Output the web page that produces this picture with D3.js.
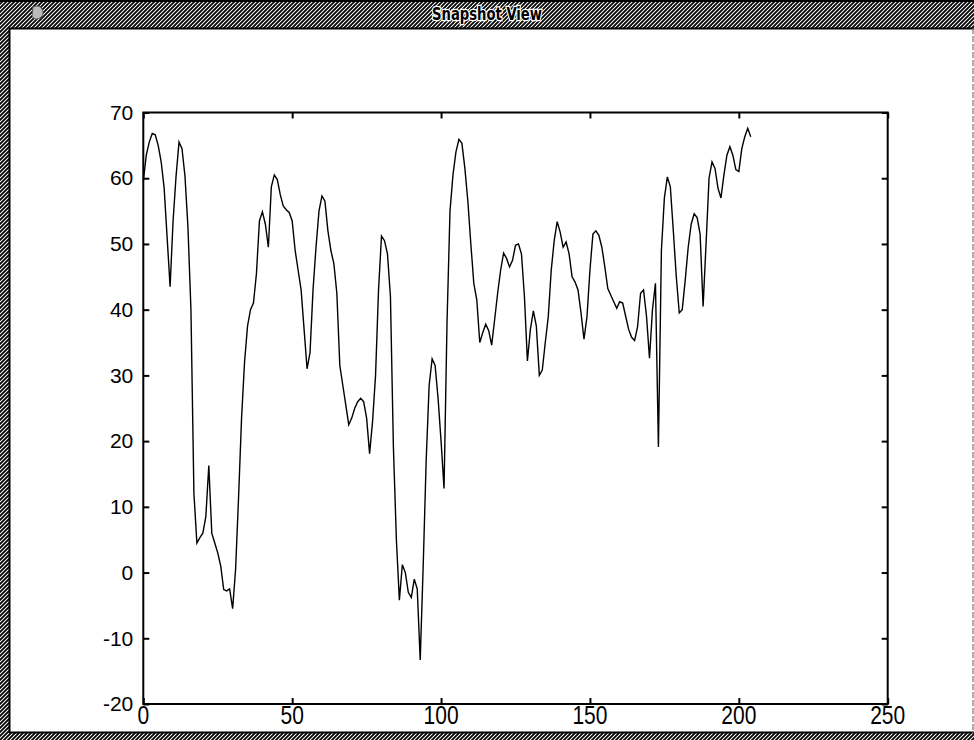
<!DOCTYPE html>
<html>
<head>
<meta charset="utf-8">
<script src="https://cdn.jsdelivr.net/npm/d3@7"></script>
<style>
  html, body { margin: 0; padding: 0; background: #fff; }
  svg { display: block; }
</style>
</head>
<body>
<svg id="chart" width="974" height="740"></svg>
<script>
// ---- data (x = sample index) ----
const windowTitle = "Snapshot View";
const sampleValues = [
  59.5, 63.5, 65.5, 66.8, 66.6, 65.0, 62.5, 58.5, 51.0, 43.5,
  53.5, 60.3, 65.5, 64.5, 60.3, 52.5, 40.0, 12.0, 4.5, 5.3,
  6.0, 8.5, 16.3, 6.0, 4.5, 3.0, 1.0, -2.6, -2.8, -2.5,
  -5.5, 0.5, 11.5, 23.5, 32.0, 37.5, 40.0, 41.0, 45.5, 53.5,
  54.9, 53.0, 49.5, 58.7, 60.5, 59.8, 57.5, 55.8, 55.2, 54.8,
  53.5, 49.0, 46.0, 43.0, 37.0, 31.0, 33.5, 43.0, 49.5, 55.0,
  57.3, 56.5, 52.0, 49.0, 47.0, 42.5, 31.5, 28.5, 25.5, 22.5,
  23.5, 25.0, 26.0, 26.5, 26.0, 23.5, 18.1, 23.0, 30.0, 43.0,
  51.2, 50.5, 48.5, 42.0, 19.0, 5.0, -4.2, 1.2, 0.0, -3.0,
  -3.8, -1.0, -2.5, -13.3, 1.0, 17.0, 28.5, 32.5, 31.5, 26.5,
  20.0, 12.8, 38.0, 55.0, 60.5, 64.0, 65.9, 65.3, 61.5, 56.5,
  50.0, 44.0, 41.5, 35.0, 36.5, 37.8, 36.8, 34.6, 38.5, 42.5,
  46.0, 48.6, 47.8, 46.5, 47.5, 49.8, 50.0, 48.5, 42.0, 32.2,
  37.0, 39.8, 37.5, 30.0, 30.8, 35.0, 38.9, 46.0, 50.5, 53.4,
  51.8, 49.5, 50.3, 48.5, 45.0, 44.2, 43.0, 39.5, 35.5, 38.9,
  46.0, 51.5, 52.0, 51.3, 49.5, 46.5, 43.2, 42.2, 41.2, 40.2,
  41.2, 41.0, 39.0, 37.0, 35.8, 35.3, 37.4, 42.5, 43.0, 39.0,
  32.6, 40.0, 44.0, 19.1, 49.0, 57.0, 60.2, 58.7, 52.0, 45.0,
  39.5, 40.0, 44.5, 49.5, 53.0, 54.6, 54.0, 51.5, 40.5, 50.0,
  60.0, 62.5, 61.5, 58.5, 57.0, 60.5, 63.5, 64.8, 63.5, 61.3,
  61.0, 64.5, 66.3, 67.6, 66.3
];
const xDomain = [0, 250];
const yDomain = [-20, 70];
const xTicks = [0, 50, 100, 150, 200, 250];
const yTicks = [-20, -10, 0, 10, 20, 30, 40, 50, 60, 70];

// ---- drawing ----
(function () {
const W = 974, H = 740;
const svg = d3.select("#chart");

// dither pattern for window frame
const defs = svg.append("defs");
const pat = defs.append("pattern")
  .attr("id", "dither").attr("patternUnits", "userSpaceOnUse")
  .attr("width", 4).attr("height", 4);
pat.append("rect").attr("width", 4).attr("height", 4).attr("fill", "#fff");
pat.append("path").attr("d", "M0,4 L4,0 M-1,1 L1,-1 M3,5 L5,3")
  .attr("stroke", "#000").attr("stroke-width", 1.8);

svg.append("rect").attr("width", W).attr("height", H).attr("fill", "#fff");

// window frame
svg.append("rect").attr("x", 0).attr("y", 0).attr("width", W).attr("height", 28).attr("fill", "url(#dither)");
svg.append("rect").attr("x", 0).attr("y", 28).attr("width", 9).attr("height", H - 28).attr("fill", "url(#dither)");
svg.append("rect").attr("x", 0).attr("y", 733).attr("width", W).attr("height", 7).attr("fill", "url(#dither)");
const frame = svg.append("g").attr("stroke", "#000").attr("fill", "none");
frame.append("line").attr("x1", 0).attr("x2", W).attr("y1", 1).attr("y2", 1).attr("stroke-width", 2);
frame.append("line").attr("x1", 9).attr("x2", W).attr("y1", 28.5).attr("y2", 28.5).attr("stroke-width", 2);
frame.append("line").attr("x1", 9.5).attr("x2", 9.5).attr("y1", 28).attr("y2", 733).attr("stroke-width", 2);
frame.append("line").attr("x1", 9).attr("x2", W).attr("y1", 732.5).attr("y2", 732.5).attr("stroke-width", 2);
frame.append("line").attr("x1", 973).attr("x2", 973).attr("y1", 28).attr("y2", 733)
  .attr("stroke", "#777").attr("stroke-width", 1.2).attr("stroke-dasharray", "6,2");

// small window-menu icon
svg.append("path")
  .attr("d", "M33,7 q6,-3 9,2 q3,5 -2,9 q-5,3 -8,-2 z")
  .attr("fill", "#bbb").attr("stroke", "#555").attr("stroke-width", 1);

// title
svg.append("text")
  .attr("x", 487).attr("y", 20)
  .attr("text-anchor", "middle")
  .attr("font-family", "'DejaVu Sans Condensed', 'DejaVu Sans', sans-serif")
  .attr("font-weight", "bold").attr("font-size", 17)
  .attr("textLength", 110).attr("lengthAdjust", "spacingAndGlyphs")
  .attr("fill", "#000").attr("stroke", "#fff").attr("stroke-width", 2.5)
  .attr("paint-order", "stroke")
  .text(windowTitle);

// plot
const pLeft = 143.3, pRight = 887.7, pTop = 112.5, pBottom = 704;
const x = d3.scaleLinear().domain(xDomain).range([pLeft, pRight]);
const y = d3.scaleLinear().domain(yDomain).range([pBottom, pTop]);

const axisFont = "'Liberation Sans', Arial, sans-serif";

// frame box
svg.append("rect")
  .attr("x", pLeft).attr("y", pTop).attr("width", pRight - pLeft).attr("height", pBottom - pTop)
  .attr("fill", "none").attr("stroke", "#000").attr("stroke-width", 2);

// axes (inward ticks)
const gB = svg.append("g").attr("transform", `translate(0,${pBottom})`)
  .call(d3.axisBottom(x).tickValues(xTicks).tickSize(-6).tickFormat(""));
const gT = svg.append("g").attr("transform", `translate(0,${pTop})`)
  .call(d3.axisTop(x).tickValues(xTicks).tickSize(-6).tickFormat(""));
const gL = svg.append("g").attr("transform", `translate(${pLeft},0)`)
  .call(d3.axisLeft(y).tickValues(yTicks).tickSize(-6).tickPadding(10).tickFormat(d3.format("d")));
const gR = svg.append("g").attr("transform", `translate(${pRight},0)`)
  .call(d3.axisRight(y).tickValues(yTicks).tickSize(-6).tickFormat(""));
[gB, gT, gL, gR].forEach(g => {
  g.select(".domain").remove();
  g.selectAll(".tick line").attr("stroke", "#000").attr("stroke-width", 2);
});
gL.selectAll("text")
  .attr("font-family", axisFont).attr("font-size", 21).attr("fill", "#000")
  .text(d => d < 0 ? "-" + Math.abs(d) : String(d));

// x tick labels (slightly tall glyphs like the reference)
svg.append("g").selectAll("text").data(xTicks).join("text")
  .attr("transform", d => `translate(${x(d)},724) scale(1,1.2)`)
  .attr("text-anchor", "middle")
  .attr("font-family", axisFont).attr("font-size", 21).attr("fill", "#000")
  .text(d => d);

// data line
const line = d3.line().x((d, i) => x(i)).y(d => y(d));
svg.append("path")
  .datum(sampleValues)
  .attr("d", line)
  .attr("fill", "none").attr("stroke", "#000").attr("stroke-width", 1.4)
  .attr("stroke-linejoin", "miter");
})();
</script>
</body>
</html>
